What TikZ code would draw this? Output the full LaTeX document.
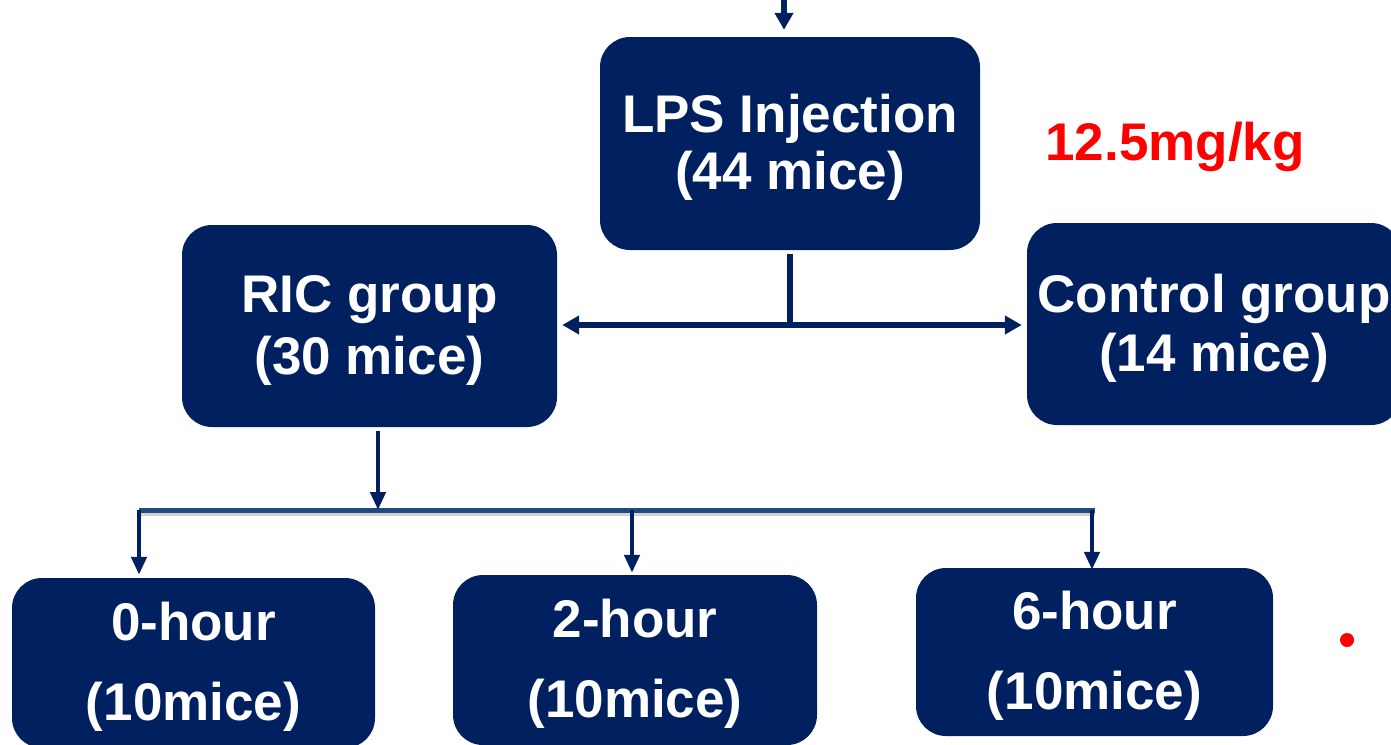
\documentclass[tikz,border=0pt]{standalone}
\usepackage{fontspec}
\setmainfont{Liberation Sans}
\usetikzlibrary{arrows.meta}
\definecolor{navy}{RGB}{0,32,96}
\definecolor{barblue}{RGB}{34,74,128}
\newcommand\mytopstrut{\rule{0pt}{46pt}}
\begin{document}
\begin{tikzpicture}[x=1pt,y=-1pt,
  box/.style={rectangle, rounded corners=30pt, fill=navy, text=white, inner sep=0pt,
    align=center, font=\bfseries\fontsize{53}{#1}\selectfont},
  box/.default=57,
  conn/.style={draw=navy, line width=6pt},
  arr/.style={conn, -{Triangle[width=18pt,length=17pt]}},
  darr/.style={draw=navy, line width=4.5pt, -{Triangle[width=15pt,length=18pt]}}]
\useasboundingbox (0,0) rectangle (1391,744);
\clip (0,0) rectangle (1391,744);

% boxes
\node[box=57, minimum width=380pt, minimum height=213pt] (lps) at (790,143.5)
  {\mytopstrut LPS Injection\\(44 mice)};
\node[box=62, minimum width=375pt, minimum height=202pt] (ric) at (369.5,326)
  {\mytopstrut RIC group\\(30 mice)};
\node[box=59, minimum width=374pt, minimum height=202pt] (ctrl) at (1214,324)
  {\mytopstrut Control group\\(14 mice)};
\node[box=80, minimum width=363pt, minimum height=170pt] (h0) at (193.5,663)
  {\mytopstrut 0-hour\\(10mice)};
\node[box=80, minimum width=364pt, minimum height=170pt] (h2) at (635,660)
  {\mytopstrut 2-hour\\(10mice)};
\node[box=80, minimum width=357pt, minimum height=168pt] (h6) at (1094.5,652)
  {\mytopstrut 6-hour\\(10mice)};

% dose label and dot
\node[font=\bfseries\fontsize{53}{60}\selectfont, text=red, anchor=base, inner sep=0pt]
  (dose) at (1175,160) {12.5mg/kg};
\node[circle, fill=red, minimum size=14pt, inner sep=0pt] (dot) at (1347,640) {};

% top incoming arrow
\coordinate (topin) at (784,-2);
\draw[arr, shorten >=7pt] (topin) -- (lps.north -| topin);

% split from LPS
\coordinate (split) at (790,325);
\coordinate (lpsout) at ([yshift=-4pt]lps.south);
\draw[conn] (lpsout) -- (split);
\draw[arr, shorten >=5pt] (split) -- (ric.east |- split);
\draw[arr, shorten >=5pt] (split) -- (ctrl.west |- split);

% bar under RIC
\coordinate (bar) at (378,510);
\coordinate (barL) at (139,510);
\coordinate (barM) at (632,510);
\coordinate (barR) at (1092,510);
\coordinate (barE) at (1095,510);
\draw[line width=5pt, black!30, opacity=0.6] ([yshift=-3pt]barL) -- ([yshift=-3pt]barE);
\draw[line width=5pt, barblue] (barL) -- (barE);

\coordinate (ricout) at ([yshift=-4pt]ric.south);
\draw[darr] (ricout -| bar) -- (bar);
\draw[darr, shorten >=3pt] (barL) -- (h0.north -| barL);
\draw[darr, shorten >=2pt] (barM) -- (h2.north -| barM);
\draw[darr, shorten >=-2pt] (barR) -- (h6.north -| barR);
\end{tikzpicture}
\end{document}
